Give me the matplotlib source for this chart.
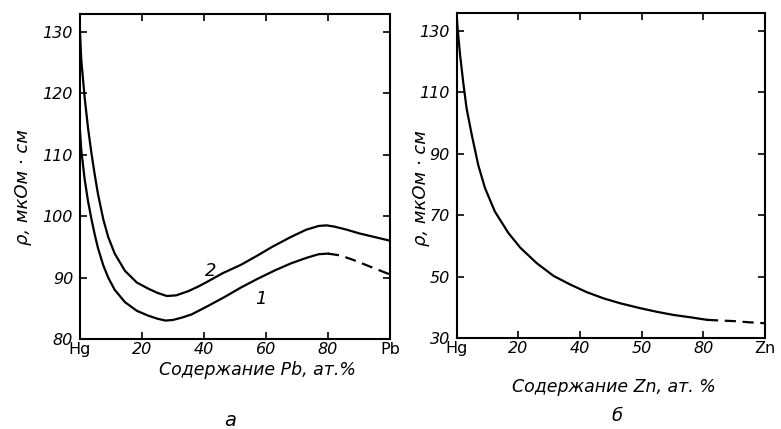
import matplotlib
matplotlib.use("Agg")
import matplotlib.pyplot as plt

# --- данные ---
# (а) Hg-Pb, кривая 1 (сплошная часть и пунктир)
pb_x1 = [0, 0.4, 1.5, 2.6, 3.7, 4.8, 5.8, 7.5, 9.1, 11.2, 14.5, 18.3, 22, 25, 27.6, 30, 33, 36, 41, 46.5, 52, 57.3, 63, 68, 73, 77, 80]
pb_y1 = [113.9, 110.8, 106.0, 102.4, 99.5, 96.9, 94.8, 92.0, 90.0, 88.0, 86.0, 84.6, 83.8, 83.3, 83.0, 83.1, 83.5, 84.0, 85.3, 86.8, 88.4, 89.8, 91.2, 92.3, 93.2, 93.8, 93.9]
pb_x1d = [80, 84, 88, 92, 96, 100]
pb_y1d = [93.9, 93.6, 92.9, 92.1, 91.3, 90.5]
# кривая 2
pb_x2 = [0, 0.4, 1.5, 2.6, 3.7, 4.8, 5.8, 7.5, 9.1, 11.2, 14.5, 18.3, 22, 25, 28, 31, 35, 38, 41, 46, 52, 57.3, 62, 68, 73, 77, 79.5, 82, 86, 90, 95, 100]
pb_y2 = [130, 125.5, 119.3, 114.3, 110.2, 106.6, 103.6, 99.5, 96.6, 93.9, 91.1, 89.2, 88.2, 87.5, 87.0, 87.1, 87.8, 88.5, 89.3, 90.7, 92.1, 93.6, 95.0, 96.6, 97.8, 98.4, 98.5, 98.3, 97.8, 97.2, 96.6, 96.0]
pb_ticks = [0, 20, 40, 60, 80, 100]
pb_ticklabels = ["Hg", "20", "40", "60", "80", "Pb"]
pb_yticks = [80, 90, 100, 110, 120, 130]

# (б) Hg-Zn
zn_x = [0, 0.3, 1.1, 2.1, 3.2, 4.9, 7.0, 9.2, 12.4, 16.8, 20.6, 26, 31.4, 36.8, 42.2, 47.6, 53, 59.5, 65, 70.3, 76, 81.2]
zn_y = [135, 130.8, 122.1, 113.4, 104.8, 96.1, 86.3, 78.8, 71.2, 64.2, 59.5, 54.4, 50.3, 47.5, 45.0, 43.0, 41.4, 39.8, 38.6, 37.6, 36.8, 36.0]
zn_xd = [81.2, 85, 89.8, 95, 100]
zn_yd = [36.0, 35.8, 35.6, 35.2, 34.9]
zn_ticks = [0, 20, 40, 60, 80, 100]
zn_ticklabels = ["Hg", "20", "40", "50", "80", "Zn"]
zn_yticks = [30, 50, 70, 90, 110, 130]

plt.rcParams['font.family'] = ['DejaVu Sans']

fig = plt.figure(figsize=(7.81, 4.29), dpi=100)
W, H = 781.0, 429.0

def make_axes(l, r, b, t):
    ax = fig.add_axes([l / W, 1 - b / H, (r - l) / W, (b - t) / H])
    for s in ax.spines.values():
        s.set_linewidth(1.5)
    ax.tick_params(direction='in', top=True, right=True, length=5, width=1.2,
                   labelsize=11.5)
    ax.tick_params(axis='x', pad=2)
    ax.tick_params(axis='y', pad=5)
    return ax

def style_ticks(ax):
    for lab in ax.get_yticklabels():
        lab.set_fontstyle('italic')
    for lab in ax.get_xticklabels():
        if lab.get_text() in ("Hg", "Pb", "Zn"):
            lab.set_fontstyle('normal')
        else:
            lab.set_fontstyle('italic')

# ---- (а) ----
ax1 = make_axes(80, 390, 339, 14)
ax1.plot(pb_x1, pb_y1, color='black', lw=1.6)
ax1.plot(pb_x1d, pb_y1d, color='black', lw=1.6, dashes=(5, 3))
ax1.plot(pb_x2, pb_y2, color='black', lw=1.6)
ax1.set_xlim(0, 100)
ax1.set_ylim(80, 132.9)
ax1.set_xticks(pb_ticks)
ax1.set_xticklabels(pb_ticklabels)
ax1.set_yticks(pb_yticks)
style_ticks(ax1)
ax1.text(42.1, 91.1, "2", fontsize=13, fontstyle='italic', ha='center', va='center')
ax1.text(58.3, 86.5, "1", fontsize=13, fontstyle='italic', ha='center', va='center')

# ---- (б) ----
ax2 = make_axes(456.7, 765, 338.3, 13)
ax2.plot(zn_x, zn_y, color='black', lw=1.6)
ax2.plot(zn_xd, zn_yd, color='black', lw=1.6, dashes=(5, 3))
ax2.set_xlim(0, 100)
ax2.set_ylim(30, 135.8)
ax2.set_xticks(zn_ticks)
ax2.set_xticklabels(zn_ticklabels)
ax2.set_yticks(zn_yticks)
style_ticks(ax2)

# подписи осей
fig.text(23 / W, 1 - 187 / H, "ρ, мкОм · см", rotation=90, fontsize=13,
         fontstyle='italic', ha='center', va='center')
fig.text(421 / W, 1 - 188 / H, "ρ, мкОм · см", rotation=90, fontsize=13,
         fontstyle='italic', ha='center', va='center')
fig.text(257 / W, 1 - 370 / H, "Содержание Pb, ат.%", fontsize=12.5,
         fontstyle='italic', ha='center', va='center')
fig.text(614 / W, 1 - 387 / H, "Содержание Zn, ат. %", fontsize=12.5,
         fontstyle='italic', ha='center', va='center')
fig.text(230 / W, 1 - 420 / H, "а", fontsize=14, fontstyle='italic',
         ha='center', va='center')
fig.text(617 / W, 1 - 416 / H, "б", fontsize=13, fontstyle='italic',
         ha='center', va='center')

fig.savefig("out.png", dpi=100)
